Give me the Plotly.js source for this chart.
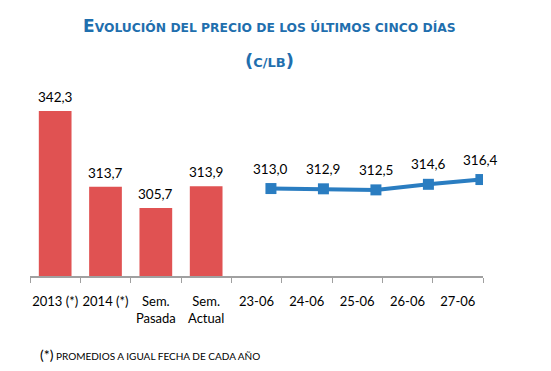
<!DOCTYPE html>
<html><head><meta charset="utf-8">
<script src="https://cdn.plot.ly/plotly-3.0.1.min.js"></script>
<style>html,body{margin:0;padding:0;background:#fff}#c{width:551px;height:371px}</style>
</head><body><div id="c"></div>
<script>
const categories = ['2013 (*)', '2014 (*)', 'Sem.<br>Pasada', 'Sem.<br>Actual', '23-06', '24-06', '25-06', '26-06', '27-06'];
const barCats = ['2013 (*)', '2014 (*)', 'Sem.<br>Pasada', 'Sem.<br>Actual'];
const barValues = [342.3, 313.7, 305.7, 313.9];
const lineCats = ['23-06', '24-06', '25-06', '26-06', '27-06'];
const lineValues = [313.0, 312.9, 312.5, 314.6, 316.4];

const fmt = v => v.toFixed(1).replace('.', ',');
const labelFont = {family: 'Lato, Open Sans, sans-serif', size: 13.5, color: '#000'};

const annotations = [];
barCats.forEach((c, i) => annotations.push({x: c, y: barValues[i], text: fmt(barValues[i]), showarrow: false, yanchor: 'bottom', yshift: 4, font: labelFont}));
lineCats.forEach((c, i) => annotations.push({xref: 'x2', yref: 'y', x: c, y: lineValues[i], text: fmt(lineValues[i]), showarrow: false, yanchor: 'bottom', yshift: 10, font: labelFont}));
annotations.push({xref: 'paper', yref: 'paper', x: 0.528, y: 1, yanchor: 'bottom', yshift: 26, showarrow: false,
  text: '<b><span style="font-size:17px">E</span>VOLUCIÓN DEL PRECIO DE LOS ÚLTIMOS CINCO DÍAS</b>',
  font: {family: 'DejaVu Sans, Verdana, sans-serif', size: 12.3, color: '#1F6FAE'}});
annotations.push({xref: 'paper', yref: 'paper', x: 0.528, y: 1, yanchor: 'bottom', yshift: -9, showarrow: false,
  text: '<b><span style="font-size:18px">(</span>C/LB<span style="font-size:18px">)</span></b>',
  font: {family: 'DejaVu Sans, Verdana, sans-serif', size: 13, color: '#1F6FAE'}});
annotations.push({xref: 'paper', yref: 'paper', x: 0.017, xanchor: 'left', y: 0, yanchor: 'top', yshift: -68, showarrow: false,
  text: '<span style="font-size:14px">(*)</span> PROMEDIOS A IGUAL FECHA DE CADA AÑO',
  font: {family: 'Lato, Open Sans, sans-serif', size: 10, color: '#000'}});

const data = [
  {type: 'bar', x: barCats, y: barValues, marker: {color: '#E05252'}, hoverinfo: 'skip'},
  {type: 'scatter', mode: 'lines+markers', x: lineCats, y: lineValues, xaxis: 'x2', yaxis: 'y',
   line: {color: '#2A7DC1', width: 4}, marker: {symbol: 'square', size: 11, color: '#2A7DC1'}, hoverinfo: 'skip'}
];

const layout = {
  width: 551, height: 371,
  margin: {l: 30, r: 68, t: 64, b: 95},
  paper_bgcolor: '#fff', plot_bgcolor: '#fff',
  showlegend: false,
  bargap: 0.35,
  xaxis: {type: 'category', categoryorder: 'array', categoryarray: categories, range: [-0.5, 8.5],
    showline: true, linecolor: '#a0a0a0', linewidth: 1.5, ticks: 'outside', ticklen: 5, tickcolor: '#a0a0a0',
    tickson: 'boundaries', tickangle: 0, ticklabelstandoff: 13, showgrid: false, zeroline: false, automargin: false,
    tickfont: {family: 'Lato, Open Sans, sans-serif', size: 13, color: '#000'}},
  xaxis2: {type: 'category', categoryorder: 'array', categoryarray: lineCats, overlaying: 'x', range: [-4.59, 4.04],
    visible: false, showgrid: false, zeroline: false},
  yaxis: {range: [280, 360], visible: false, showgrid: false, zeroline: false, fixedrange: true},
  annotations: annotations
};
Plotly.newPlot('c', data, layout, {staticPlot: true, displayModeBar: false});
</script></body></html>
